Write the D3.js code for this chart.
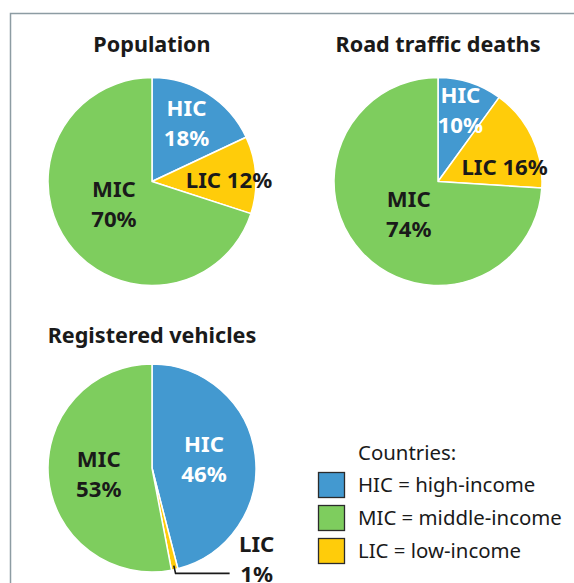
<!DOCTYPE html>
<html>
<head>
<meta charset="utf-8">
<script src="https://cdn.jsdelivr.net/npm/d3@7"></script>
<style>
  body { margin: 0; background: #fff; }
  svg { display: block; font-family: "Noto Sans", sans-serif; }
</style>
</head>
<body>
<svg id="chart" width="574" height="583"></svg>
<script>
// slice order, clockwise from 12 o'clock
const categories = ["HIC", "LIC", "MIC"];
const populationShare = [18, 12, 70];
const deathShare = [10, 16, 74];
const vehicleShare = [46, 1, 53];
const chartTitles = ["Population", "Road traffic deaths", "Registered vehicles"];
const legendTitle = "Countries:";
const legendKeys = ["HIC", "MIC", "LIC"];
const legendLabels = ["HIC = high-income", "MIC = middle-income", "LIC = low-income"];

const color = d3.scaleOrdinal()
    .domain(["HIC", "MIC", "LIC"])
    .range(["#4399d0", "#7ecd5e", "#ffcc0a"]);

const svg = d3.select("#chart");

// frame (top + left only, rest is cropped)
svg.append("path")
    .attr("d", "M10.5,583V13.5H574")
    .attr("fill", "none")
    .attr("stroke", "#8d9ca3")
    .attr("stroke-width", 1.5);

const radius = 104;
const pie = d3.pie().sort(null).value(d => d.value);
const arc = d3.arc().innerRadius(0).outerRadius(radius);

// label placement: radius + angle shift (deg) from the slice middle, two lines or one
const panels = [
  { values: populationShare, cx: 152, cy: 181.5, titleY: 52,
    labels: { HIC: {r: 61, da: 2, split: true},  LIC: {r: 77, da: 3, split: false},  MIC: {r: 49, da: -3, split: true} } },
  { values: deathShare, cx: 438, cy: 181.5, titleY: 52,
    labels: { HIC: {r: 67, da: 1.5, split: true}, LIC: {r: 68, da: 13.6, split: false}, MIC: {r: 50, da: -11, split: true} } },
  { values: vehicleShare, cx: 152, cy: 468, titleY: 343,
    labels: { HIC: {r: 52, da: 5.8, split: true}, LIC: {r: 144, da: -34, split: true, callout: true}, MIC: {r: 55, da: -9, split: true} } }
];

function polar(r, a) {
  return [r * Math.sin(a), -r * Math.cos(a)];
}

panels.forEach((p, i) => {
  const g = svg.append("g").attr("transform", `translate(${p.cx},${p.cy})`);

  svg.append("text")
      .attr("x", p.cx)
      .attr("y", p.titleY)
      .attr("text-anchor", "middle")
      .attr("font-size", 21.6)
      .attr("font-weight", 700)
      .attr("fill", "#1a1a1a")
      .text(chartTitles[i]);

  const data = pie(categories.map((c, j) => ({ key: c, value: p.values[j] })));

  g.selectAll("path.slice")
    .data(data)
    .join("path")
      .attr("class", "slice")
      .attr("d", arc)
      .attr("fill", d => color(d.data.key))
      .attr("stroke", "#fff")
      .attr("stroke-width", 1.5)
      .attr("stroke-linejoin", "round");

  data.forEach(d => {
    const lay = p.labels[d.data.key];
    const mid = (d.startAngle + d.endAngle) / 2;
    const [x, y] = polar(lay.r, mid + lay.da * Math.PI / 180);
    const fill = d.data.key === "HIC" ? "#fff" : "#1a1a1a";
    const t = g.append("text")
        .attr("text-anchor", "middle")
        .attr("font-size", 22.2)
        .attr("font-weight", 700)
        .attr("fill", fill);
    if (lay.split) {
      t.append("tspan").attr("x", x).attr("y", y - 15).text(d.data.key);
      t.append("tspan").attr("x", x).attr("y", y + 15).text(d.data.value + "%");
    } else {
      t.attr("x", x).attr("y", y + 7).text(d.data.key + " " + d.data.value + "%");
    }

    if (lay.callout) {
      const p0 = polar(radius - 4, mid);
      const p1 = polar(radius + 4, mid);
      g.append("polyline")
          .attr("points", [p0, p1, [x - 27, p1[1]]].map(q => q.join(",")).join(" "))
          .attr("fill", "none")
          .attr("stroke", "#1a1a1a")
          .attr("stroke-width", 1.6);
    }
  });
});

// legend
const legend = svg.append("g").attr("transform", "translate(318,460)");
legend.append("text")
    .attr("x", 40)
    .attr("y", 0)
    .attr("font-size", 20.4)
    .attr("fill", "#1a1a1a")
    .text(legendTitle);

const rows = legend.selectAll("g.row")
  .data(legendKeys)
  .join("g")
    .attr("class", "row")
    .attr("transform", (d, i) => `translate(0,${12 + i * 33})`);

rows.append("rect")
    .attr("x", 0.5)
    .attr("y", 0.5)
    .attr("width", 26)
    .attr("height", 25)
    .attr("fill", d => color(d))
    .attr("stroke", "#2b2b2b")
    .attr("stroke-width", 1.3);

rows.append("text")
    .attr("x", 40)
    .attr("y", 20)
    .attr("font-size", 20.4)
    .attr("fill", "#1a1a1a")
    .text((d, i) => legendLabels[i]);
</script>
</body>
</html>
